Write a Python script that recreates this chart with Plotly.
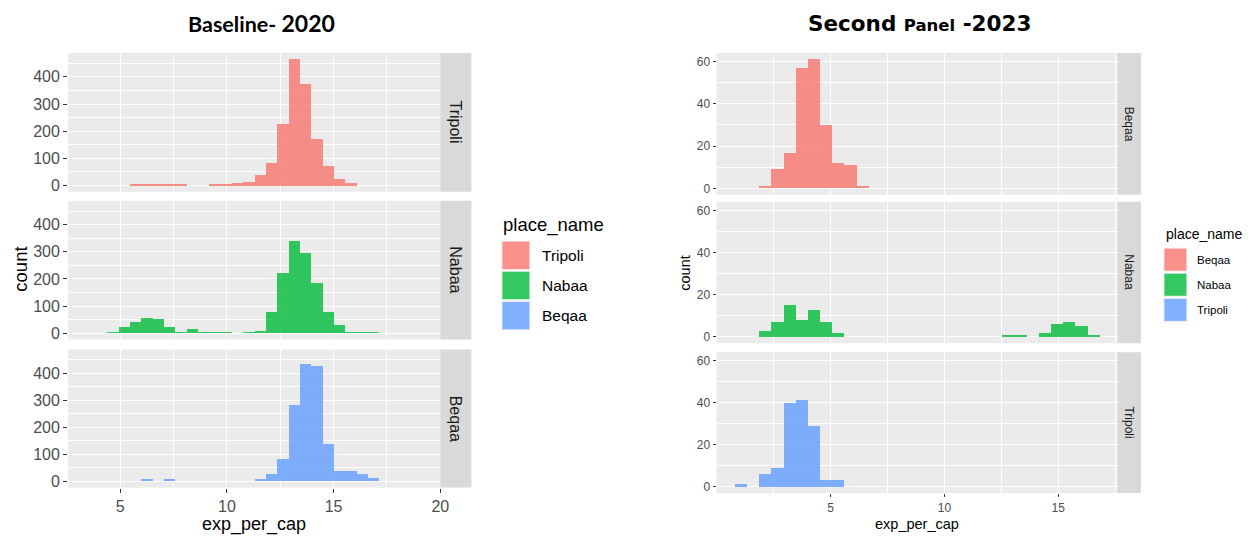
import numpy as np
import plotly.graph_objects as go

W, H = 1248, 536

# ---------------- data ----------------
# Baseline 2020 histogram bins (24 bins)
LEFT_BIN_START = 4.406
LEFT_BIN_WIDTH = 0.5306
tripoli_2020 = [0, 0, 5, 5, 5, 5, 5, 0, 0, 5, 5, 10, 15, 40, 83, 225, 465, 375, 172, 73, 25, 8, 0, 0]
nabaa_2020 = [5, 25, 43, 58, 53, 25, 5, 15, 5, 5, 5, 0, 5, 10, 78, 224, 340, 297, 184, 78, 30, 5, 5, 5]
beqaa_2020 = [0, 0, 0, 6, 0, 6, 0, 0, 0, 0, 0, 0, 0, 7, 25, 80, 280, 431, 427, 138, 36, 35, 25, 12]

# Second panel 2023 histogram bins (30 bins)
RIGHT_BIN_START = 0.777
RIGHT_BIN_WIDTH = 0.5342
beqaa_2023 = [0, 0, 1, 9, 17, 57, 61, 30, 12, 11, 1, 0, 0, 0, 0, 0, 0, 0, 0, 0, 0, 0, 0, 0, 0, 0, 0, 0, 0, 0]
nabaa_2023 = [0, 0, 3, 7, 15, 8, 13, 7, 2, 0, 0, 0, 0, 0, 0, 0, 0, 0, 0, 0, 0, 0, 1, 1, 0, 2, 6, 7, 5, 1]
tripoli_2023 = [1, 0, 6, 9, 40, 41, 29, 3, 3, 0, 0, 0, 0, 0, 0, 0, 0, 0, 0, 0, 0, 0, 0, 0, 0, 0, 0, 0, 0, 0]

left_facets = ["Tripoli", "Nabaa", "Beqaa"]
right_facets = ["Beqaa", "Nabaa", "Tripoli"]
left_counts = [tripoli_2020, nabaa_2020, beqaa_2020]
right_counts = [beqaa_2023, nabaa_2023, tripoli_2023]

x_ticks_left = [5, 10, 15, 20]
x_minor_left = [2.5, 7.5, 12.5, 17.5]
y_ticks_left = [0, 100, 200, 300, 400]
y_minor_left = [50, 150, 250, 350, 450]
x_ticks_right = [5, 10, 15]
x_minor_right = [2.5, 7.5, 12.5, 17.5]
y_ticks_right = [0, 20, 40, 60]
y_minor_right = [10, 30, 50]

COLORS = ["rgba(248,118,109,0.8)", "rgba(0,186,56,0.8)", "rgba(97,156,255,0.8)"]

title_left = "<b>Baseline- <span style='font-size:23px'>2020</span></b>"
title_right = "<b>Second <span style='font-size:16.5px'>Panel</span> -2023</b>"

# ---------------- layout helpers ----------------
# the page is photographed slightly zoomed out; compensate so marks land where intended
S = 1 / 0.992

def fx(px):
    return px * S / W

def fy(py):
    return 1 - py * S / H

FONT = "Liberation Sans, Arial, sans-serif"

panels = [
    dict(facets=left_facets, counts=left_counts, start=LEFT_BIN_START, width=LEFT_BIN_WIDTH,
         xpx=(68, 440), ypx=[(52.7, 191), (200, 338), (348, 485.5)],
         xrange=[2.56, 20.0], yrange=[-23.25, 488.25],
         xt=x_ticks_left, xm=x_minor_left, yt=y_ticks_left, ym=y_minor_left,
         tick=16, strip=(440, 471), stripfont=16, ticklen=4),
    dict(facets=right_facets, counts=right_counts, start=RIGHT_BIN_START, width=RIGHT_BIN_WIDTH,
         xpx=(716, 1116.7), ypx=[(52.7, 194), (201, 341.7), (350.7, 491)],
         xrange=[-0.015, 17.61], yrange=[-3.05, 64.05],
         xt=x_ticks_right, xm=x_minor_right, yt=y_ticks_right, ym=y_minor_right,
         tick=12, strip=(1116.7, 1140), stripfont=12, ticklen=3),
]

fig = go.Figure()
layout = dict(width=W, height=H, margin=dict(l=0, r=0, t=0, b=0),
              paper_bgcolor="white", plot_bgcolor="#EBEBEB",
              showlegend=False, bargap=0, font=dict(family=FONT))
shapes = []
annotations = []

ax = 0
for p in panels:
    for k, (name, counts) in enumerate(zip(p["facets"], p["counts"])):
        ax += 1
        centers = p["start"] + (np.arange(len(counts)) + 0.5) * p["width"]
        color = COLORS[k]
        fig.add_trace(go.Bar(x=centers, y=counts, width=p["width"],
                             marker=dict(color=color, line=dict(width=0)),
                             xaxis=f"x{ax}", yaxis=f"y{ax}", name=name))
        y0px, y1px = p["ypx"][k]
        bottom = (k == 2)
        xa = dict(domain=[fx(p["xpx"][0]), fx(p["xpx"][1])], anchor=f"y{ax}",
                  range=p["xrange"], tickmode="array", tickvals=p["xt"],
                  showgrid=True, gridcolor="white", gridwidth=1.4,
                  minor=dict(tickmode="array", tickvals=p["xm"], showgrid=True,
                             gridcolor="white", gridwidth=0.7, ticks=""),
                  zeroline=False, showline=False, fixedrange=True,
                  showticklabels=bottom, ticks="outside" if bottom else "",
                  ticklen=p["ticklen"], tickwidth=1.1, tickcolor="#333333",
                  tickfont=dict(size=p["tick"], color="#4D4D4D", family=FONT))
        ya = dict(domain=[fy(y1px), fy(y0px)], anchor=f"x{ax}",
                  range=p["yrange"], tickmode="array", tickvals=p["yt"],
                  showgrid=True, gridcolor="white", gridwidth=1.4,
                  minor=dict(tickmode="array", tickvals=p["ym"], showgrid=True,
                             gridcolor="white", gridwidth=0.7, ticks=""),
                  zeroline=False, showline=False, fixedrange=True,
                  ticks="outside", ticklen=p["ticklen"], tickwidth=1.1, tickcolor="#333333",
                  tickfont=dict(size=p["tick"], color="#4D4D4D", family=FONT))
        layout[f"xaxis{ax}"] = xa
        layout[f"yaxis{ax}"] = ya
        # strip
        sx0, sx1 = p["strip"]
        shapes.append(dict(type="rect", xref="paper", yref="paper",
                           x0=fx(sx0), x1=fx(sx1), y0=fy(y1px), y1=fy(y0px),
                           fillcolor="#D9D9D9", line=dict(width=0), layer="below"))
        annotations.append(dict(text=name, xref="paper", yref="paper",
                                x=fx((sx0 + sx1) / 2), y=fy((y0px + y1px) / 2),
                                textangle=90, showarrow=False,
                                xanchor="center", yanchor="middle",
                                font=dict(size=p["stripfont"], color="#1A1A1A", family=FONT)))

# axis titles and panel titles
extra = [
    dict(text="count", x=fx(20.5), y=fy(268), textangle=-90,
         font=dict(size=18.5, color="black", family=FONT)),
    dict(text="exp_per_cap", x=fx(254), y=fy(522),
         font=dict(size=18, color="black", family=FONT)),
    dict(text="count", x=fx(685), y=fy(272), textangle=-90,
         font=dict(size=14.5, color="black", family=FONT)),
    dict(text="exp_per_cap", x=fx(916), y=fy(522),
         font=dict(size=14.5, color="black", family=FONT)),
    dict(text=title_left, x=fx(261), y=fy(23),
         font=dict(size=21.5, color="black", family="Lato, sans-serif")),
    dict(text=title_right, x=fx(919), y=fy(23),
         font=dict(size=21.5, color="black", family="DejaVu Sans, sans-serif")),
]
for a in extra:
    a.update(xref="paper", yref="paper", showarrow=False, xanchor="center", yanchor="middle")
annotations += extra

# legends (drawn like ggplot guides)
legends = [
    dict(names=left_facets, tx=501, ty=224, tsize=18.5, kx=(501.5, 529.5),
         ky=[(240, 268.5), (270, 298.5), (300, 328.5)], lx=540, lsize=15.5),
    dict(names=right_facets, tx=1163, ty=233, tsize=14, kx=(1163, 1186),
         ky=[(247, 270), (272, 295), (297, 320)], lx=1194, lsize=11.5),
]
for lg in legends:
    annotations.append(dict(text="place_name", xref="paper", yref="paper",
                            x=fx(lg["tx"]), y=fy(lg["ty"]), xanchor="left", yanchor="middle",
                            showarrow=False, font=dict(size=lg["tsize"], color="black", family=FONT)))
    for k, name in enumerate(lg["names"]):
        ky0, ky1 = lg["ky"][k]
        shapes.append(dict(type="rect", xref="paper", yref="paper",
                           x0=fx(lg["kx"][0]), x1=fx(lg["kx"][1]), y0=fy(ky1), y1=fy(ky0),
                           fillcolor=COLORS[k], line=dict(width=1, color="#F2F2F2")))
        annotations.append(dict(text=name, xref="paper", yref="paper",
                                x=fx(lg["lx"]), y=fy((ky0 + ky1) / 2), xanchor="left", yanchor="middle",
                                showarrow=False, font=dict(size=lg["lsize"], color="black", family=FONT)))

layout["shapes"] = shapes
layout["annotations"] = annotations
fig.update_layout(**layout)
fig.write_html("out.html")
